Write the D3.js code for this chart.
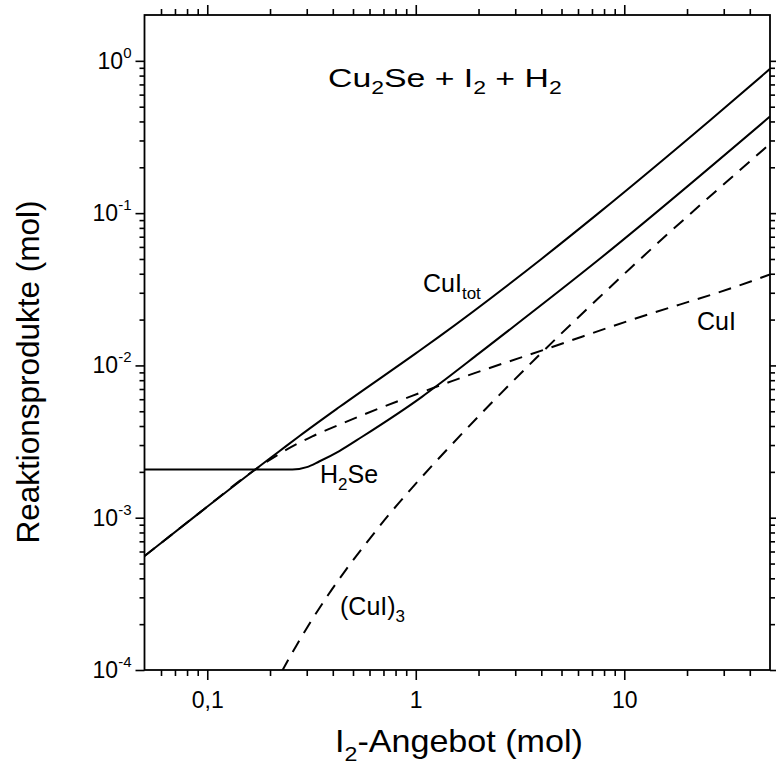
<!DOCTYPE html>
<html>
<head>
<meta charset="utf-8">
<script src="https://cdn.jsdelivr.net/npm/d3@7"></script>
<style>
  body { margin: 0; background: #fff; }
  svg text { font-family: "Liberation Sans", Arial, Helvetica, sans-serif; fill: #000; }
</style>
</head>
<body>
<div id="chart"></div>
<script>
// values (log-log plot)
const xCuItot = [0.05, 0.092, 0.168, 0.22, 0.277, 0.43, 1.0, 1.29, 4.02, 7.53, 25.9, 50];
const yCuItot = [5.6e-4, 1.08e-3, 2.05e-3, 2.71e-3, 3.44e-3, 5.33e-3, 1.20e-2, 1.54e-2, 5.02e-2, 0.100, 0.409, 0.885];

const xH2Se = [0.05, 0.256, 0.30, 0.344, 0.43, 0.553, 1.07, 1.29, 2.01, 7.53, 50];
const yH2Se = [2.07e-3, 2.07e-3, 2.15e-3, 2.34e-3, 2.74e-3, 3.40e-3, 6.22e-3, 7.52e-3, 1.20e-2, 4.94e-2, 0.431];

const xCuI = [0.05, 0.092, 0.168, 0.22, 0.319, 0.43, 0.553, 0.96, 1.49, 2.01, 4.35, 10.8, 40.7, 50];
const yCuI = [5.6e-4, 1.08e-3, 2.05e-3, 2.61e-3, 3.42e-3, 4.08e-3, 4.71e-3, 6.31e-3, 7.89e-3, 9.10e-3, 1.30e-2, 1.99e-2, 3.57e-2, 3.96e-2];

const xCuI3 = [0.228, 0.267, 0.372, 0.464, 0.578, 0.745, 0.96, 1.49, 3.76, 7.53, 10.7, 50];
const yCuI3 = [0.98e-4, 1.44e-4, 2.98e-4, 4.58e-4, 6.79e-4, 1.05e-3, 1.57e-3, 3.03e-3, 1.11e-2, 2.77e-2, 4.35e-2, 0.285];

const xMajorTicks = [0.1, 1, 10];
const xMajorLabels = ['0,1', '1', '10'];
const xMinorTicks = [0.06, 0.07, 0.08, 0.09, 0.2, 0.3, 0.4, 0.5, 0.6, 0.7, 0.8, 0.9,
                     2, 3, 4, 5, 6, 7, 8, 9, 20, 30, 40];
const yMajorTicks = [1e-4, 1e-3, 1e-2, 1e-1, 1];
const yMajorExponents = ['-4', '-3', '-2', '-1', '0'];

function drawChart() {
  const W = 776, H = 774;
  const left = 144.5, right = 770, top = 15, bottom = 670;

  const svg = d3.select('#chart').append('svg')
    .attr('width', W)
    .attr('height', H)
    .style('display', 'block');

  svg.append('rect').attr('width', W).attr('height', H).attr('fill', '#fff');

  const x = d3.scaleLog().domain([0.05, 50]).range([left, right]);
  const y = d3.scaleLog().domain([1e-4, 2]).range([bottom, top]);

  // y minor ticks: 2..9 in every decade
  const yMinorTicks = [];
  yMajorTicks.slice(0, 4).forEach(d => {
    for (let k = 2; k <= 9; k++) yMinorTicks.push(d * k);
  });

  function styleAxis(g) {
    g.select('.domain').remove();
    g.selectAll('line').attr('stroke', '#000').attr('stroke-width', 1.6);
  }

  // minor ticks on all four sides
  svg.append('g').attr('transform', `translate(0,${bottom})`)
    .call(d3.axisBottom(x).tickValues(xMinorTicks).tickSize(6).tickFormat(''))
    .call(styleAxis);
  svg.append('g').attr('transform', `translate(0,${top})`)
    .call(d3.axisTop(x).tickValues(xMinorTicks).tickSize(6).tickFormat(''))
    .call(styleAxis);
  svg.append('g').attr('transform', `translate(${left},0)`)
    .call(d3.axisLeft(y).tickValues(yMinorTicks).tickSize(5).tickFormat(''))
    .call(styleAxis);
  svg.append('g').attr('transform', `translate(${right},0)`)
    .call(d3.axisRight(y).tickValues(yMinorTicks).tickSize(5).tickFormat(''))
    .call(styleAxis);

  // major ticks
  const xb = svg.append('g').attr('transform', `translate(0,${bottom})`)
    .call(d3.axisBottom(x).tickValues(xMajorTicks).tickSize(10)
      .tickFormat((d, i) => xMajorLabels[i]))
    .call(styleAxis);
  xb.selectAll('text')
    .attr('y', 38)
    .attr('dy', 0)
    .style('font-size', '23px');

  svg.append('g').attr('transform', `translate(0,${top})`)
    .call(d3.axisTop(x).tickValues(xMajorTicks).tickSize(10).tickFormat(''))
    .call(styleAxis);

  const yl = svg.append('g').attr('transform', `translate(${left},0)`)
    .call(d3.axisLeft(y).tickValues(yMajorTicks).tickSize(9).tickFormat(''))
    .call(styleAxis);
  svg.append('g').attr('transform', `translate(${right},0)`)
    .call(d3.axisRight(y).tickValues(yMajorTicks).tickSize(9).tickFormat(''))
    .call(styleAxis);

  // y tick labels as 10^n
  yMajorTicks.forEach((d, i) => {
    const t = yl.append('text')
      .attr('x', -13)
      .attr('y', y(d) + 8)
      .attr('text-anchor', 'end')
      .style('font-size', '23px');
    t.append('tspan').text('10');
    t.append('tspan')
      .attr('dy', -11)
      .style('font-size', '15px')
      .text(yMajorExponents[i]);
  });

  // frame
  svg.append('rect')
    .attr('x', left).attr('y', top)
    .attr('width', right - left).attr('height', bottom - top)
    .attr('fill', 'none').attr('stroke', '#000').attr('stroke-width', 1.8);

  // clip for curves
  svg.append('clipPath').attr('id', 'plot-clip')
    .append('rect')
    .attr('x', left).attr('y', top)
    .attr('width', right - left).attr('height', bottom - top);

  const line = d3.line()
    .x(d => x(d[0]))
    .y(d => y(d[1]))
    .curve(d3.curveMonotoneX);

  const series = [
    { xs: xCuI3, ys: yCuI3, dash: '13,9' },
    { xs: xCuI, ys: yCuI, dash: '13,9' },
    { xs: xH2Se, ys: yH2Se, dash: null },
    { xs: xCuItot, ys: yCuItot, dash: null }
  ];

  const plot = svg.append('g').attr('clip-path', 'url(#plot-clip)');
  series.forEach(s => {
    plot.append('path')
      .datum(s.xs.map((v, i) => [v, s.ys[i]]))
      .attr('d', line)
      .attr('fill', 'none')
      .attr('stroke', '#000')
      .attr('stroke-width', 2)
      .attr('stroke-dasharray', s.dash);
  });

  // helper for text with subscripts (optionally stretched horizontally)
  function label(px, py, parts, size, sx) {
    const g = svg.append('g')
      .attr('transform', `translate(${px},${py}) scale(${sx || 1},1)`);
    const t = g.append('text')
      .style('font-size', size + 'px');
    let shifted = false;
    parts.forEach(p => {
      const ts = t.append('tspan').text(p.t);
      if (p.sub) {
        ts.attr('dy', shifted ? 0 : size * 0.28).style('font-size', (size * 0.68) + 'px');
        shifted = true;
      } else if (shifted) {
        ts.attr('dy', -size * 0.28);
        shifted = false;
      }
    });
    return t;
  }

  // title
  label(328, 87, [
    { t: 'Cu' }, { t: '2', sub: true }, { t: 'Se + I' }, { t: '2', sub: true },
    { t: ' + H' }, { t: '2', sub: true }
  ], 26, 1.3);

  // curve labels
  label(423, 292, [{ t: 'CuI' }, { t: 'tot', sub: true }], 25);
  label(320, 483, [{ t: 'H' }, { t: '2', sub: true }, { t: 'Se' }], 25);
  label(697, 330, [{ t: 'CuI' }], 25);
  label(340, 615, [{ t: '(CuI)' }, { t: '3', sub: true }], 25);

  // axis titles
  label(335, 752, [
    { t: 'I' }, { t: '2', sub: true }, { t: '-Angebot (mol)' }
  ], 31, 1.1);

  svg.append('text')
    .attr('transform', `translate(39,372) rotate(-90)`)
    .attr('text-anchor', 'middle')
    .style('font-size', '31.5px')
    .text('Reaktionsprodukte (mol)');
}

drawChart();
</script>
</body>
</html>
